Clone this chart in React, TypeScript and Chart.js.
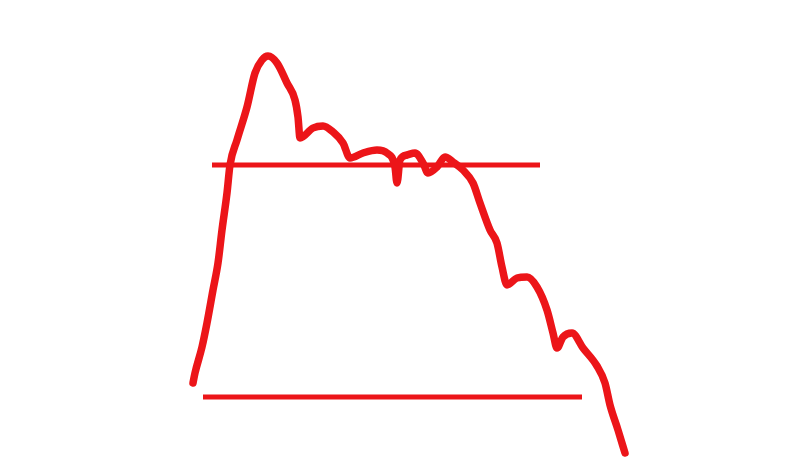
import React, { useEffect, useRef } from "react";
import { Chart, registerables } from "chart.js";

Chart.register(...registerables);

// Hand-drawn curve, x position and height (value units, up is positive)
const curveX = [193, 195, 202, 207, 213, 218, 222, 227, 230, 237, 247, 255, 262, 268, 277, 287, 295, 298, 300, 313, 323, 333, 343, 350, 363, 377, 387, 395, 397, 400, 407, 415, 423, 428, 437, 445, 453, 463, 473, 480, 490, 497, 502, 507, 517, 527, 537, 547, 553, 557, 563, 572, 583, 597, 605, 610, 618, 625];
const curveY = [90, 100, 126, 150, 183, 210, 243, 280, 308, 333, 366, 400, 413, 417, 410, 390, 373, 356, 335, 345, 347, 341, 330, 315, 320, 323, 320, 306, 290, 313, 318, 320, 310, 300, 306, 316, 311, 303, 290, 270, 243, 230, 206, 188, 195, 196, 186, 163, 140, 125, 136, 140, 125, 107, 90, 68, 43, 20];

// Upper horizontal line
const upperX = [212, 540];
const upperY = [308, 308];

// Lower horizontal line
const lowerX = [203, 582];
const lowerY = [76, 76];

const RED = "#ec1519";

export default function App() {
  const ref = useRef<HTMLCanvasElement | null>(null);
  useEffect(() => {
    document.body.style.margin = "0";
    const toPts = (xs: number[], ys: number[]) => xs.map((x, i) => ({ x, y: ys[i] }));
    const chart = new Chart(ref.current!, {
      type: "line",
      data: {
        datasets: [
          {
            data: toPts(curveX, curveY),
            borderColor: RED,
            borderWidth: 7.5,
            borderCapStyle: "round",
            borderJoinStyle: "round",
            cubicInterpolationMode: "monotone",
            pointRadius: 0,
            fill: false,
            clip: false as any,
          },
          {
            data: toPts(upperX, upperY),
            borderColor: RED,
            borderWidth: 5,
            borderCapStyle: "butt",
            pointRadius: 0,
            fill: false,
            clip: false as any,
          },
          {
            data: toPts(lowerX, lowerY),
            borderColor: RED,
            borderWidth: 5,
            borderCapStyle: "butt",
            pointRadius: 0,
            fill: false,
            clip: false as any,
          },
        ],
      },
      options: {
        animation: false,
        responsive: false,
        maintainAspectRatio: false,
        layout: { padding: 0 },
        plugins: { legend: { display: false }, tooltip: { enabled: false } },
        scales: {
          x: { type: "linear", min: 0, max: 798, display: false },
          y: { type: "linear", min: 0, max: 473, display: false },
        },
      },
    });
    return () => chart.destroy();
  }, []);
  return (
    <div style={{ position: "absolute", left: 0, top: 0, width: 798, height: 473, background: "#fff" }}>
      <canvas ref={ref} width={798} height={473} />
    </div>
  );
}
